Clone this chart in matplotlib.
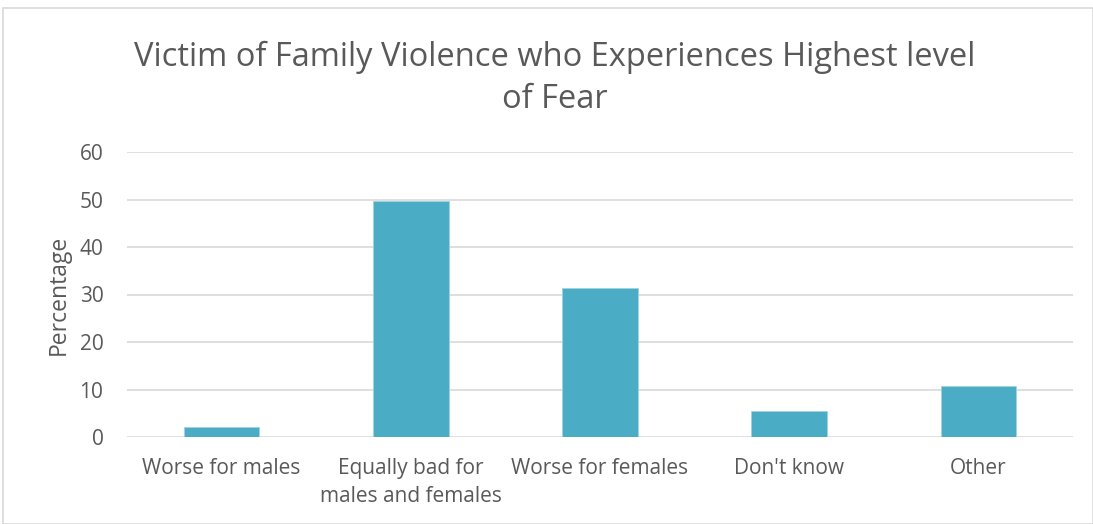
import matplotlib.pyplot as plt
from matplotlib.patches import Rectangle

categories = ["Worse for males", "Equally bad for\nmales and females", "Worse for females", "Don't know", "Other"]
values = [2.2, 49.7, 31.3, 5.5, 10.8]
yticks = [0, 10, 20, 30, 40, 50, 60]

W, H = 1093, 524
fig = plt.figure(figsize=(W/100, H/100), dpi=100)
plt.rcParams['font.family'] = ['Open Sans', 'DejaVu Sans']

ax = fig.add_axes([127/W, 1-437/H, (1073-127)/W, (437-152)/H])
x = range(len(categories))
ax.bar(x, values, width=0.4, color='#4BACC6', edgecolor='#9fd3e0', linewidth=0.6, zorder=3)
ax.set_xlim(-0.5, len(categories)-0.5)
ax.set_ylim(0, 60)
ax.set_yticks(yticks)
ax.set_xticks(list(x))
ax.set_xticklabels(categories, fontsize=15, color='#595959', linespacing=1.45)
ax.tick_params(axis='y', labelsize=15, labelcolor='#595959', length=0, pad=17)
ax.tick_params(axis='x', length=0, pad=15)
for yv in yticks:
    ax.axhline(yv, color='#d9d9d9', linewidth=1.2, zorder=1)
for s in ax.spines.values():
    s.set_visible(False)
ax.set_ylabel("Percentage", fontsize=16.5, color='#595959', labelpad=6)

fig.text(555/W, 1-57/H, "Victim of Family Violence who Experiences Highest level", ha='center', va='center',
         fontsize=23.5, color='#595959')
fig.text(555/W, 1-99/H, "of Fear", ha='center', va='center', fontsize=23.5, color='#595959')

fig.patches.append(Rectangle((3/W, 0), 1-3/W, 1-8/H, transform=fig.transFigure, fill=False,
                             edgecolor='#d9d9d9', linewidth=1.2))
fig.savefig('out.png', dpi=100)
